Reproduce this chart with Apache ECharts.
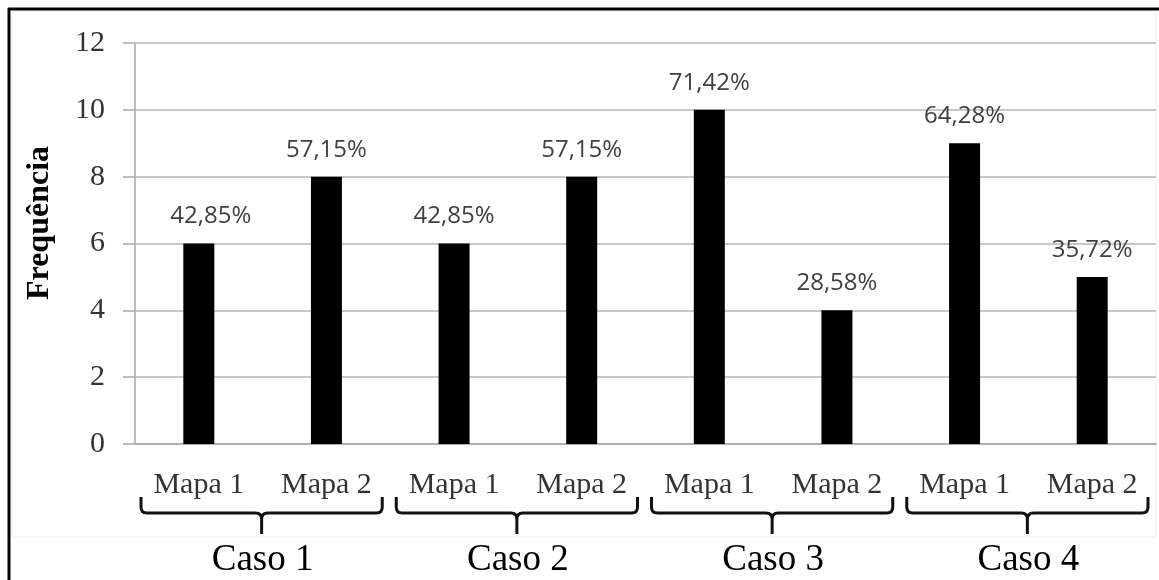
<!DOCTYPE html>
<html>
<head>
<meta charset="utf-8">
<script src="https://cdn.jsdelivr.net/npm/echarts@6/dist/echarts.min.js"></script>
<style>
  html, body { margin: 0; padding: 0; background: #fff; }
  #chart { width: 1159px; height: 580px; }
</style>
</head>
<body>
<div id="chart"></div>
<script>
// Mapas per case, frequencies and percentage labels
const categories = ['Mapa 1', 'Mapa 2', 'Mapa 1', 'Mapa 2', 'Mapa 1', 'Mapa 2', 'Mapa 1', 'Mapa 2'];
const frequencies = [6, 8, 6, 8, 10, 4, 9, 5];
const percentLabels = ['42,85%', '57,15%', '42,85%', '57,15%', '71,42%', '28,58%', '64,28%', '35,72%'];
const cases = ['Caso 1', 'Caso 2', 'Caso 3', 'Caso 4'];
// index range of the categories each case groups
const caseRanges = [[0, 1], [2, 3], [4, 5], [6, 7]];
const yMin = 0, yMax = 12, yStep = 2;

const serif = '"Liberation Serif", "DejaVu Serif", serif';
const sans = '"Open Sans", "Noto Sans", sans-serif';

const chart = echarts.init(document.getElementById('chart'));

// curly brace under a group of categories
function renderBrace(params, api) {
  const band = api.size([1, 0])[0];
  const x0 = api.coord([api.value(0), 0])[0] - band / 2 + 6;
  const x1 = api.coord([api.value(1), 0])[0] + band / 2 - 8;
  const base = api.coord([0, 0])[1];
  const top = base + 53, mid = base + 69, tip = base + 90;
  const cx = (x0 + x1) / 2;
  const r = 6;
  const path =
    'M' + x0 + ',' + top +
    ' L' + x0 + ',' + (mid - r) +
    ' Q' + x0 + ',' + mid + ' ' + (x0 + r) + ',' + mid +
    ' L' + (cx - r) + ',' + mid +
    ' Q' + cx + ',' + mid + ' ' + cx + ',' + (mid + r) +
    ' L' + cx + ',' + tip +
    ' M' + cx + ',' + (mid + r) +
    ' Q' + cx + ',' + mid + ' ' + (cx + r) + ',' + mid +
    ' L' + (x1 - r) + ',' + mid +
    ' Q' + x1 + ',' + mid + ' ' + x1 + ',' + (mid - r) +
    ' L' + x1 + ',' + top;
  return {
    type: 'path',
    shape: { pathData: path },
    style: { fill: null, stroke: '#111', lineWidth: 3 }
  };
}

// the first percentage label sits a little to the right of its bar
const barData = frequencies.map((v, i) =>
  i === 0 ? { value: v, label: { offset: [12, 0] } } : v);

chart.setOption({
  animation: false,
  backgroundColor: '#fff',
  grid: { left: 135, right: 3, top: 43, bottom: 136, containLabel: false },
  graphic: [
    { type: 'rect', shape: { x: 12, y: 12, width: 1144, height: 525 },
      style: { fill: 'rgba(0,0,0,0)', stroke: '#efefef', lineWidth: 1 }, z: -1 },
    { type: 'line', shape: { x1: 8, y1: 9, x2: 1159, y2: 9 },
      style: { stroke: '#000', lineWidth: 3 } },
    { type: 'line', shape: { x1: 9, y1: 8, x2: 9, y2: 580 },
      style: { stroke: '#000', lineWidth: 3 } },
    { type: 'text', x: 40, y: 223, rotation: Math.PI / 2,
      style: { text: 'Frequência', font: 'bold 32px ' + serif, fill: '#000',
               align: 'center', verticalAlign: 'middle' } }
  ],
  xAxis: [
    {
      type: 'category',
      data: categories,
      axisLine: { show: true, lineStyle: { color: '#a6a6a6', width: 1.5 } },
      axisTick: { show: false },
      axisLabel: { margin: 26, fontFamily: serif, fontSize: 30, color: '#333',
                   interval: 0 }
    },
    {
      type: 'category',
      data: cases,
      position: 'bottom',
      axisLine: { show: false },
      axisTick: { show: false },
      splitLine: { show: false },
      axisLabel: { margin: 98, fontFamily: serif, fontSize: 37, color: '#000',
                   interval: 0 }
    }
  ],
  yAxis: {
    type: 'value',
    min: yMin, max: yMax, interval: yStep,
    axisLine: { show: true, lineStyle: { color: '#a6a6a6', width: 1.5 } },
    axisTick: { show: true, length: 12, lineStyle: { color: '#bdbdbd', width: 2 } },
    axisLabel: { margin: 30, fontFamily: serif, fontSize: 30, color: '#333' },
    splitLine: { show: true, lineStyle: { color: '#c8c8c8', width: 2 } }
  },
  series: [
    {
      type: 'bar',
      xAxisIndex: 0,
      data: barData,
      barWidth: 31,
      itemStyle: { color: '#000' },
      label: {
        show: true,
        position: 'top',
        distance: 15,
        fontFamily: sans,
        fontSize: 24,
        color: '#404040',
        formatter: p => percentLabels[p.dataIndex]
      }
    },
    {
      type: 'custom',
      xAxisIndex: 0,
      silent: true,
      clip: false,
      data: caseRanges,
      renderItem: renderBrace,
      z: 5
    }
  ]
});
</script>
</body>
</html>
